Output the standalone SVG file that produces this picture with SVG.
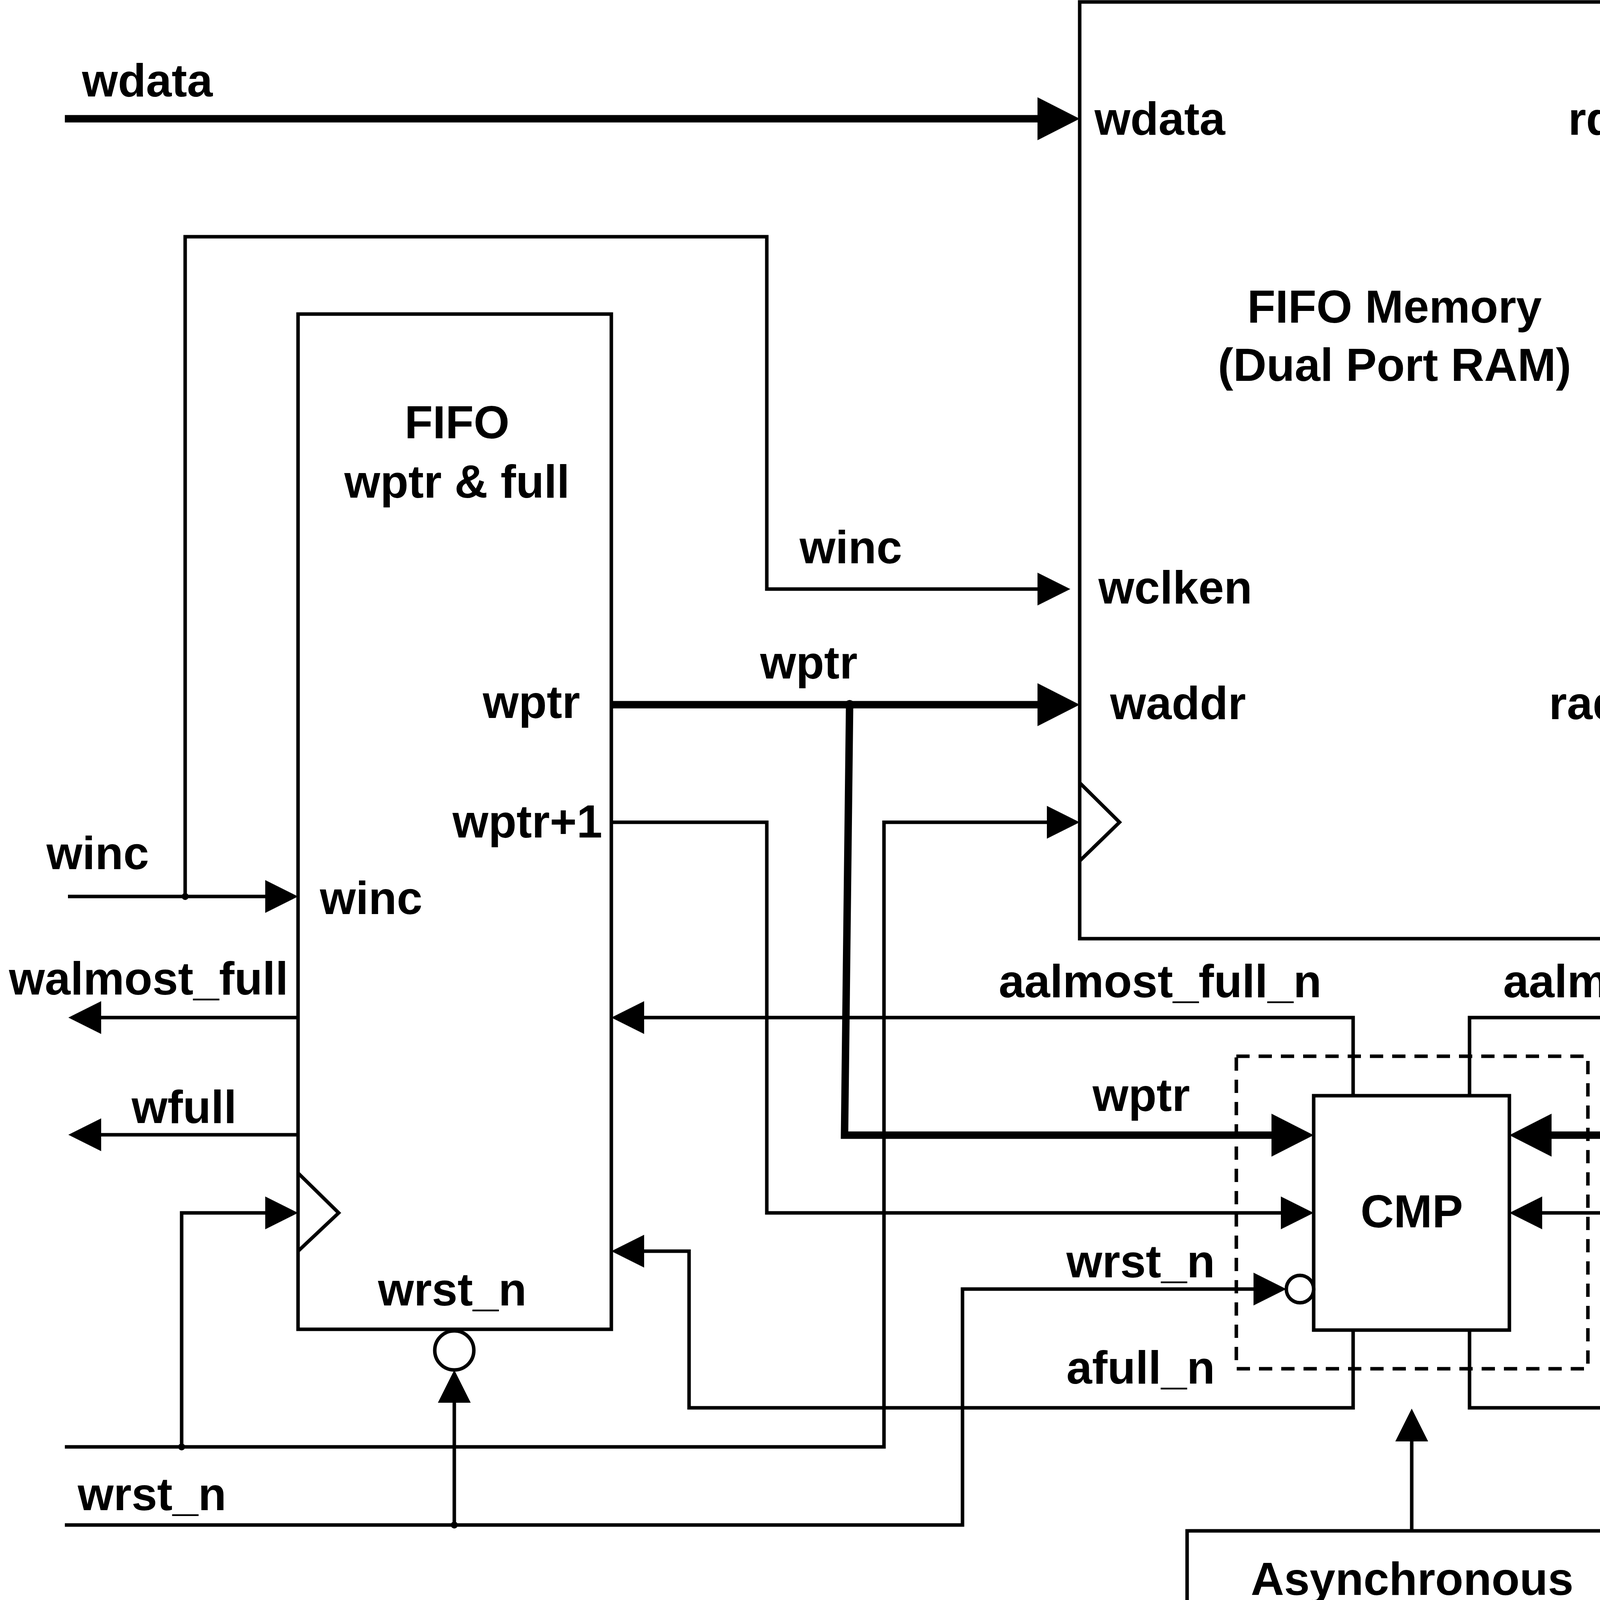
<svg xmlns="http://www.w3.org/2000/svg" width="7330" height="4390" viewBox="0 0 7330 4390">
<style>
.bg{fill:#ffffff}
.box{fill:#ffffff;stroke:#000000;stroke-width:9}
.clk{fill:none;stroke:#000000;stroke-width:9;stroke-linejoin:miter}
.thin{fill:none;stroke:#000000;stroke-width:9;stroke-linejoin:miter}
.thick{fill:none;stroke:#000000;stroke-width:19;stroke-linejoin:miter}
.dash{fill:none;stroke:#000000;stroke-width:9;stroke-dasharray:34 23}
.bub{fill:#ffffff;stroke:#000000;stroke-width:9}
.dot{fill:#000000}
text{font-family:"Liberation Sans",Arial,Helvetica,sans-serif;font-weight:bold;font-size:118px;fill:#000000}
.m{text-anchor:middle}
.e{text-anchor:end}
</style>
<defs>
<marker id="ah" markerUnits="userSpaceOnUse" viewBox="0 0 108 110" refX="88" refY="55" markerWidth="108" markerHeight="110" orient="auto">
<path d="M0,0 L108,55 L0,110 Z" fill="#000000"/>
</marker>
<marker id="at" markerUnits="userSpaceOnUse" viewBox="0 0 84 84" refX="74" refY="42" markerWidth="84" markerHeight="84" orient="auto">
<path d="M0,0 L84,42 L0,84 Z" fill="#000000"/>
</marker>
<filter id="shadow" x="-10%" y="-10%" width="130%" height="140%">
<feDropShadow dx="12" dy="14" stdDeviation="9" flood-color="#000000" flood-opacity="0.35"/>
</filter>
</defs>
<rect class="bg" x="0" y="0" width="7330" height="4390"/>

<g id="memory">
<rect class="box" x="2764" y="5" width="1601" height="2398"/>
<polyline class="clk" points="2764,2004 2866,2105 2764,2204"/>
<text class="m" x="3570" y="826">FIFO Memory</text>
<text class="m" x="3570" y="975">(Dual Port RAM)</text>
<text x="2802" y="345">wdata</text>
<text class="e" x="4303" y="345">rdata</text>
<text x="2812" y="1545">wclken</text>
<text x="2842" y="1841">waddr</text>
<text class="e" x="4267" y="1841">raddr</text>
</g>

<g id="fifo-wptr-full">
<rect class="box" x="763" y="804" width="802" height="2599"/>
<polyline class="clk" points="763,3003 867,3105 763,3203"/>
<circle class="bub" cx="1163" cy="3457" r="50"/>
<text class="m" x="1170" y="1122">FIFO</text>
<text class="m" x="1170" y="1274">wptr &amp; full</text>
<text class="e" x="1485" y="1838">wptr</text>
<text class="e" x="1542" y="2144">wptr+1</text>
<text x="819" y="2340">winc</text>
<text class="m" x="1158" y="3342">wrst_n</text>
</g>

<g id="fifo-rptr-empty">
<rect class="box" x="5564" y="804" width="802" height="2599"/>
<polyline class="clk" points="6366,3003 6262,3105 6366,3203"/>
<circle class="bub" cx="5963" cy="3457" r="50"/>
<text class="m" x="5962" y="1127">FIFO</text>
<text class="m" x="5962" y="1273">rptr &amp; empty</text>
<text x="5651" y="1841">rptr</text>
<text x="5602" y="2144">rptr+1</text>
<text class="e" x="6268" y="2351">rinc</text>
<text class="m" x="5960" y="3338">rrst_n</text>
</g>

<g id="cmp">
<rect class="dash" x="3165" y="2704" width="900" height="800"/>
<rect class="box" x="3363" y="2805" width="501" height="600"/>
<circle class="bub" cx="3328" cy="3300" r="35"/>
<text class="m" x="3614" y="3142">CMP</text>
</g>

<g id="async-compare">
<rect class="box" x="3039" y="3919" width="1152" height="391" filter="url(#shadow)"/>
<text class="m" x="3615" y="4083">Asynchronous</text>
<text class="m" x="3615" y="4233">compare</text>
</g>

<g id="connectors">
<path class="thick" d="M166,304 H2744" marker-end="url(#ah)"/>
<path class="thick" d="M4365,305 H6942" marker-end="url(#ah)"/>
<path class="thick" d="M1565,1804 H2744" marker-end="url(#ah)"/>
<path class="thick" d="M2175,1804 L2162,2906 H3343" marker-end="url(#ah)"/>
<path class="thick" d="M5564,1804 H4385" marker-end="url(#ah)"/>
<path class="thick" d="M4963,1804 V2906 H3884" marker-end="url(#ah)"/>

<path class="thin" d="M474,2295 V606 H1963 V1508 H2730" marker-end="url(#at)"/>
<path class="thin" d="M174,2295 H753" marker-end="url(#at)"/>
<path class="thin" d="M763,2605 H185" marker-end="url(#at)"/>
<path class="thin" d="M763,2905 H185" marker-end="url(#at)"/>
<path class="thin" d="M166,3704 H2263 V2105 H2754" marker-end="url(#at)"/>
<path class="thin" d="M465,3704 V3105 H753" marker-end="url(#at)"/>
<path class="thin" d="M1565,2105 H1963 V3105 H3353" marker-end="url(#at)"/>
<path class="thin" d="M166,3904 H2464 V3300 H3283" marker-end="url(#at)"/>
<path class="thin" d="M1163,3904 V3517" marker-end="url(#at)"/>
<path class="thin" d="M3464,2805 V2605 H1575" marker-end="url(#at)"/>
<path class="thin" d="M3464,3405 V3604 H1764 V3203 H1575" marker-end="url(#at)"/>
<path class="thin" d="M3762,2805 V2605 H5554" marker-end="url(#at)"/>
<path class="thin" d="M3762,3405 V3604 H5364 V3203 H5554" marker-end="url(#at)"/>
<path class="thin" d="M5564,2105 H5163 V3105 H3874" marker-end="url(#at)"/>
<path class="thin" d="M6953,2315 H6376" marker-end="url(#at)"/>
<path class="thin" d="M6366,2605 H6943" marker-end="url(#at)"/>
<path class="thin" d="M6366,2894 H6943" marker-end="url(#at)"/>
<path class="thin" d="M6953,3105 H6376" marker-end="url(#at)"/>
<path class="thin" d="M6964,3904 H5963 V3517" marker-end="url(#at)"/>
<path class="thin" d="M3614,3919 V3616" marker-end="url(#at)"/>

<circle class="dot" cx="474" cy="2295" r="9"/>
<circle class="dot" cx="465" cy="3704" r="9"/>
<circle class="dot" cx="1163" cy="3904" r="9"/>
<circle class="dot" cx="2175" cy="1804" r="12"/>
<circle class="dot" cx="4963" cy="1804" r="12"/>

<text x="210" y="247">wdata</text>
<text class="e" x="6884" y="242">rdata</text>
<text x="2047" y="1442">winc</text>
<text x="1946" y="1737">wptr</text>
<text x="4968" y="1731">rptr</text>
<text x="119" y="2225">winc</text>
<text x="23" y="2546">walmost_full</text>
<text class="e" x="3383" y="2553">aalmost_full_n</text>
<text x="3848" y="2553">aalmost_empty_n</text>
<text x="6402" y="2549">ralmost_empty</text>
<text x="337" y="2875">wfull</text>
<text x="2797" y="2844">wptr</text>
<text x="4170" y="2844">rptr</text>
<text x="6414" y="2842">rempty</text>
<text x="2730" y="3270">wrst_n</text>
<text x="2730" y="3542">afull_n</text>
<text x="4138" y="3542">aempty_n</text>
<text x="199" y="3866">wrst_n</text>
<text x="6575" y="3855">rrst_n</text>
</g>
</svg>
